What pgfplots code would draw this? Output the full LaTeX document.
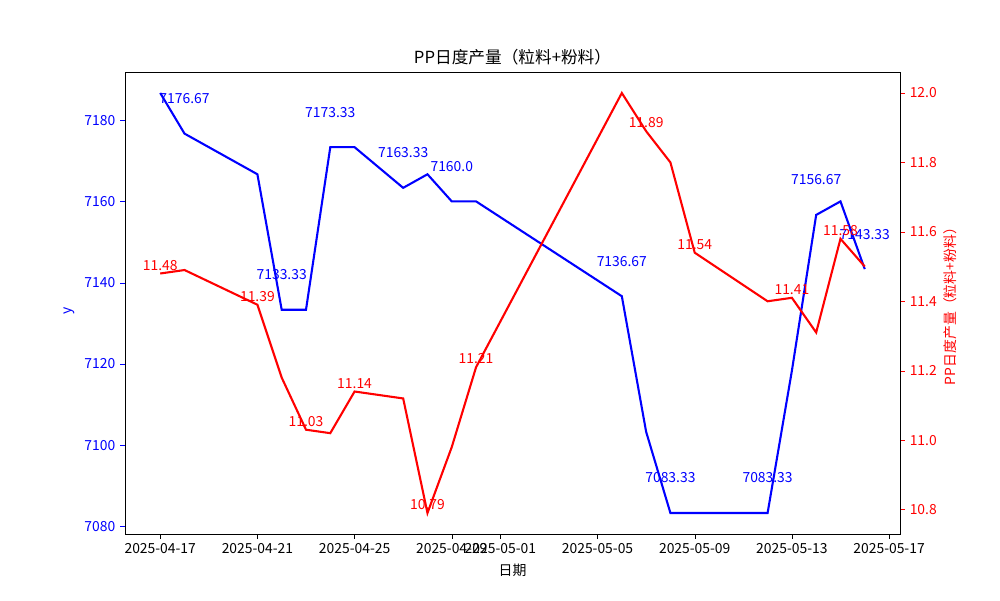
\documentclass[border=0pt]{standalone}
\usepackage{pgfplots}
\pgfplotsset{compat=1.18}
\usepackage{fontspec}
\setmainfont{Noto Sans CJK SC}
\pgfplotstableread{
d v
0 7186.67
1 7176.67
4 7166.67
5 7133.33
6 7133.33
7 7173.33
8 7173.33
10 7163.33
11 7166.67
12 7160.0
13 7160.0
19 7136.67
20 7103.33
21 7083.33
22 7083.33
25 7083.33
26 7118.33
27 7156.67
28 7160.0
29 7143.33
}\bluedata
\pgfplotstableread{
d v
0 11.48
1 11.49
4 11.39
5 11.18
6 11.03
7 11.02
8 11.14
10 11.12
11 10.79
12 10.98
13 11.21
19 12.00
20 11.89
21 11.80
22 11.54
25 11.40
26 11.41
27 11.31
28 11.58
29 11.50
}\reddata
\begin{document}
\begin{tikzpicture}
\useasboundingbox (0,0) rectangle (720pt,432pt);
\pgfplotsset{
  common/.style={
    at={(90pt,47.52pt)}, anchor=south west, scale only axis,
    width=558pt, height=332.64pt,
    xmin=-1.45, xmax=30.45,
    tick align=outside, major tick length=3.5pt,
    font=\fontsize{10}{12}\selectfont,
    /pgf/number format/assume math mode=true,
    /pgf/number format/set thousands separator={},
    clip=false,
  }
}
\begin{axis}[common,
  ymin=7078.17, ymax=7191.83,
  xtick={0,4,8,12,14,18,22,26,30},
  xticklabels={2025-04-17,2025-04-21,2025-04-25,2025-04-29,2025-05-01,2025-05-05,2025-05-09,2025-05-13,2025-05-17},
  xtick pos=bottom, ytick pos=left,
  ytick={7080,7100,7120,7140,7160,7180},
  yticklabel style={blue},
  ytick style={blue},
  xtick style={black},
  xlabel={日期},
  ylabel={y}, ylabel style={blue, xshift=-5.5pt},
  title={PP日度产量（粒料+粉料）},
  title style={font=\fontsize{12}{14}\selectfont, yshift=-4.5pt},
]
\addplot[blue, line width=1.5pt, mark=none] table[x=d,y=v] {\bluedata};
\foreach \d/\v in {1/7176.67,5/7133.33,7/7173.33,10/7163.33,12/7160.0,19/7136.67,21/7083.33,25/7083.33,27/7156.67,29/7143.33}{
  \edef\tmp{\noexpand\node[blue, yshift=25.2pt] at (axis cs:\d,\v) {\v};}\tmp
}
\end{axis}
\begin{axis}[common,
  ymin=10.7295, ymax=12.0605,
  axis x line=none, axis y line*=right,
  ytick={10.8,11.0,11.2,11.4,11.6,11.8,12.0},
  yticklabel style={red, /pgf/number format/.cd, fixed, fixed zerofill, precision=1},
  ytick style={red},
  ylabel={PP日度产量（粒料+粉料）}, ylabel style={red, yshift=2pt},
]
\addplot[red, line width=1.5pt, mark=none] table[x=d,y=v] {\reddata};
\foreach \d/\v/\t in {0/11.48/11.48,4/11.39/11.39,6/11.03/11.03,8/11.14/11.14,11/10.79/10.79,13/11.21/11.21,20/11.89/11.89,22/11.54/11.54,26/11.41/11.41,28/11.58/11.58}{
  \edef\tmp{\noexpand\node[red, yshift=6pt] at (axis cs:\d,\v) {\t};}\tmp
}
\end{axis}
\end{tikzpicture}
\end{document}
